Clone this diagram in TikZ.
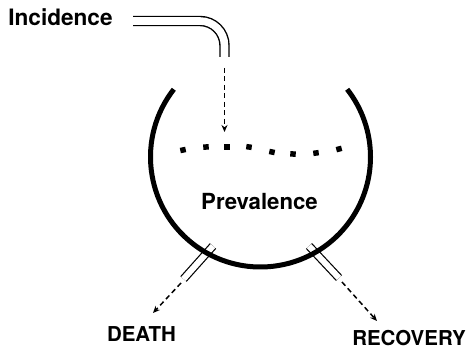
\documentclass[tikz,border=0pt]{standalone}
\usepackage{fontspec}
\setmainfont{TeX Gyre Heros}
\usetikzlibrary{arrows.meta}
\begin{document}
\begin{tikzpicture}[x=1pt,y=1pt,
  word/.style={inner sep=0pt, anchor=base, font=\bfseries\fontsize{22.6}{26}\selectfont},
  capsword/.style={inner sep=0pt, anchor=base, font=\bfseries\fontsize{20.5}{24}\selectfont},
  pipe/.style={draw=black, line width=1.4pt, double=white, double distance=7.6pt},
  outpipe/.style={draw=black, line width=1.2pt, double=white, double distance=6pt},
  flow/.style={draw=black, line width=1.5pt, dash pattern=on 5pt off 3.5pt,
    -{Stealth[length=7pt,width=6pt]}},
  ring/.style={draw=black, line width=5pt},
  level/.style={fill=black, minimum size=5.5pt, inner sep=0pt}
]
\useasboundingbox (0,0) rectangle (468,348);
\fill[white] (0,0) rectangle (468,348);

% labels
\node[word] (inc) at (60.5,322) {Incidence};
\node[word, font=\bfseries\fontsize{22.2}{26}\selectfont] (prev) at (259.5,138) {Prevalence};
\node[capsword] (death) at (141.5,6.5) {DEATH};
\node[capsword] (recov) at (409,3) {RECOVERY};

% reservoir centre and connector ends
\coordinate (c) at (260.5,191);
\coordinate (pipeA) at (133,327);
\coordinate (pipeB) at (224.5,291);
\coordinate (dropA) at (224.5,280);
\coordinate (dropB) at (224.5,216);
\coordinate (leftA) at (213,102);
\coordinate (leftB) at (183.5,69);
\coordinate (leftC) at (181,65);
\coordinate (leftD) at (153,35);
\coordinate (rightA) at (309,102);
\coordinate (rightB) at (339,70);
\coordinate (rightC) at (342,66);
\coordinate (rightD) at (377,27);

% inflow pipe and its dashed drop
\draw[pipe, rounded corners=24.5pt] (pipeA) -| (pipeB);
\draw[flow] (dropA) -- (dropB);

% outflow pipes
\draw[outpipe] (leftA) -- (leftB);
\draw[outpipe] (rightA) -- (rightB);
\draw[flow] (leftC) -- (leftD);
\draw[flow] (rightC) -- (rightD);

% the reservoir
\draw[ring] (c) ++(142:110) arc[start angle=142, end angle=398, radius=110];

% dotted level line
\node[level, rotate=12] (d1) at (183,198) {};
\node[level, rotate=5] (d2) at (206,201) {};
\node[level] (d3) at (227,201) {};
\node[level, rotate=-8] (d4) at (249,201) {};
\node[level, rotate=-12] (d5) at (272,196) {};
\node[level, rotate=-3] (d6) at (293,194) {};
\node[level, rotate=8] (d7) at (316,195) {};
\node[level, rotate=15] (d8) at (339,199) {};
\end{tikzpicture}
\end{document}
